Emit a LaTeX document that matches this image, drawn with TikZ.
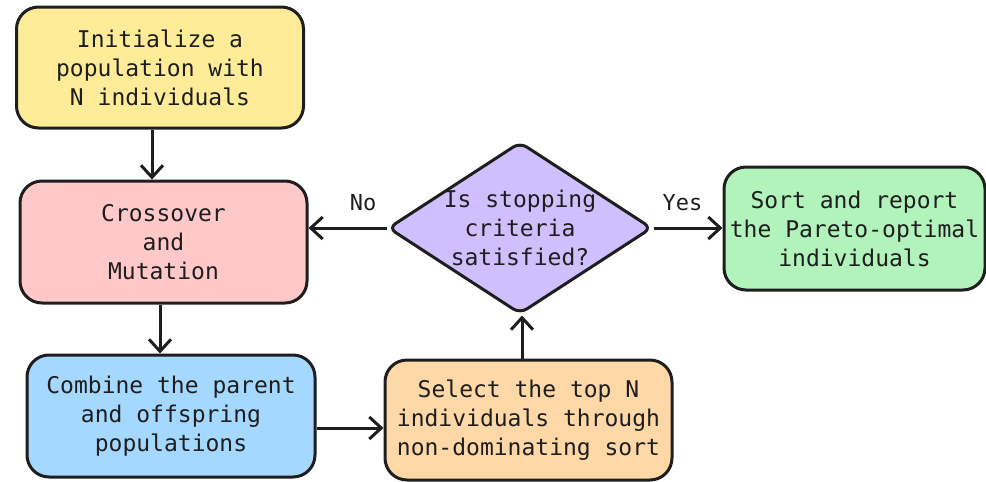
\documentclass[tikz,border=0pt]{standalone}
\usepackage{fontspec}
\usepackage{tikz}
\usetikzlibrary{arrows.meta,positioning,shapes.geometric}
\newfontfamily\sketchfont{DejaVu Sans Mono}
\definecolor{ink}{HTML}{1E1E1E}
\definecolor{butter}{HTML}{FFEC99}
\definecolor{blush}{HTML}{FFC9C9}
\definecolor{sky}{HTML}{A5D8FF}
\definecolor{lilac}{HTML}{D0BFFF}
\definecolor{peach}{HTML}{FFD8A8}
\definecolor{mint}{HTML}{B2F2BB}
\tikzset{
  box/.style={rectangle, rounded corners=22pt, draw=ink, line width=3pt,
              align=center, inner sep=0pt, text=ink,
              font=\sketchfont\fontsize{23}{29}\selectfont},
  initbox/.style={box, fill=butter, minimum width=287pt, minimum height=121pt},
  varybox/.style={box, fill=blush, minimum width=287pt, minimum height=122pt},
  mergebox/.style={box, fill=sky, minimum width=288pt, minimum height=122pt},
  pickbox/.style={box, fill=peach, minimum width=287pt, minimum height=120pt},
  endbox/.style={box, fill=mint, minimum width=261pt, minimum height=123pt},
  decision/.style={diamond, draw=ink, fill=lilac, line width=3pt, rounded corners=8pt,
                   inner sep=0pt, minimum width=264pt, minimum height=172pt},
  txt/.style={align=center, text=ink, font=\sketchfont\fontsize{23}{29}\selectfont},
  lbl/.style={text=ink, inner sep=0pt, anchor=base, font=\sketchfont\fontsize{22}{26}\selectfont},
  flow/.style={-{Straight Barb[length=12pt, width=22pt, line width=3pt]}, draw=ink, line width=3pt},
}
\begin{document}
\begin{tikzpicture}[x=1pt, y=-1pt]
\useasboundingbox (0,0) rectangle (986,482);
\node[initbox] (init) at (160,67.5) {Initialize a\\population with\\N individuals};
\node[varybox] (vary) at (163.5,242) {Crossover\\and\\Mutation};
\node[mergebox] (merge) at (171,416) {Combine the parent\\and offspring\\populations};
\node[pickbox] (pick) at (528.5,420) {Select the top N\\individuals through\\non-dominating sort};
\node[decision, label={[txt]center:Is stopping\\criteria\\satisfied?}] (check) at (520,228) {};
\node[endbox] (report) at (854.5,228.5) {Sort and report\\the Pareto-optimal\\individuals};

% connectors
\draw[flow] ([xshift=-8pt]init.south) -- ([xshift=-8pt]init.south |- vary.north);
\draw[flow] ([xshift=-3.5pt]vary.south) -- ([xshift=-3.5pt]vary.south |- merge.north);
\draw[flow] ([yshift=-12pt]merge.east) -- ([yshift=-12pt]merge.east -| pick.west);
\draw[flow] ([xshift=-6.5pt]pick.north) -- ([xshift=-6.5pt]pick.north |- check.south);
\draw[flow] (check.west) -- (check.west -| vary.east) node[lbl, pos=.3, yshift=18pt] {No};
\draw[flow] (check.east) -- (check.east -| report.west) node[lbl, pos=.42, yshift=18pt] {Yes};
\end{tikzpicture}
\end{document}
